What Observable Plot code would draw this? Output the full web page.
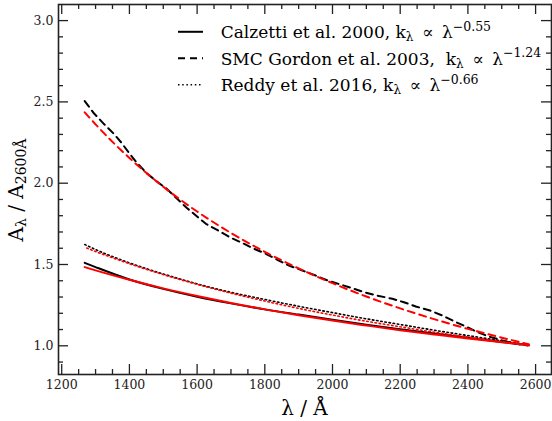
<!DOCTYPE html>
<html>
<head>
<meta charset="utf-8">
<script src="https://cdn.jsdelivr.net/npm/d3@7"></script>
<script src="https://cdn.jsdelivr.net/npm/@observablehq/plot@0.6"></script>
<style>
  body { margin: 0; background: #fff; }
  #chart svg { display: block; }
</style>
</head>
<body>
<div id="chart"></div>
<script>
// ---- data ----
const lambdaGrid   = [1268, 1300, 1400, 1500, 1600, 1700, 1800, 1900, 2000, 2100, 2200, 2300, 2400, 2500, 2580];
const calzettiObs  = [1.510, 1.484, 1.408, 1.350, 1.302, 1.261, 1.224, 1.192, 1.160, 1.130, 1.102, 1.075, 1.049, 1.024, 1.003];
const calzettiFit  = [1.484, 1.464, 1.406, 1.353, 1.306, 1.263, 1.224, 1.188, 1.155, 1.125, 1.096, 1.070, 1.045, 1.022, 1.004];
const reddyObs     = [1.623, 1.592, 1.510, 1.442, 1.381, 1.329, 1.285, 1.243, 1.204, 1.166, 1.131, 1.096, 1.063, 1.031, 1.006];
const reddyFit     = [1.606, 1.580, 1.505, 1.438, 1.378, 1.324, 1.275, 1.230, 1.189, 1.151, 1.117, 1.084, 1.054, 1.026, 1.005];
const smcFit       = [2.436, 2.362, 2.155, 1.978, 1.826, 1.694, 1.578, 1.476, 1.385, 1.303, 1.230, 1.164, 1.104, 1.050, 1.010];
const lambdaSmc    = [1268, 1295, 1323, 1352, 1376, 1399, 1423, 1451, 1480, 1510, 1541, 1569, 1600, 1626, 1670, 1699, 1734, 1768, 1803, 1837, 1871, 1911, 1950, 1985, 2054, 2093, 2132, 2177, 2211, 2246, 2288, 2325, 2359, 2394, 2428, 2462, 2502, 2542, 2576];
const smcObs       = [2.505, 2.430, 2.368, 2.308, 2.250, 2.186, 2.123, 2.062, 2.012, 1.966, 1.904, 1.849, 1.795, 1.750, 1.700, 1.665, 1.632, 1.597, 1.566, 1.529, 1.494, 1.463, 1.432, 1.402, 1.357, 1.330, 1.309, 1.289, 1.268, 1.242, 1.217, 1.186, 1.151, 1.119, 1.084, 1.057, 1.033, 1.012, 1.002];

const xMajorTicks = [1200, 1400, 1600, 1800, 2000, 2200, 2400, 2600];
const yMajorTicks = [1.0, 1.5, 2.0, 2.5, 3.0];
const xMinorTicks = d3.range(1250, 2600, 50).filter(v => v % 200 !== 0);
const yMinorTicks = d3.range(9, 31).map(v => v / 10).filter(v => Math.abs(v * 2 - Math.round(v * 2)) > 1e-6);

const legendNames     = ["Calzetti et al. 2000, k", "SMC Gordon et al. 2003,\u00a0 k", "Reddy et al. 2016, k"];
const legendExponents = ["\u22120.55", "\u22121.24", "\u22120.66"];
const legendDashes    = [null, "7,5", "1.5,2.7"];

// ---- layout ----
const W = 552, H = 421, mL = 58, mR = 1, mT = 4, mB = 47;
const innerW = W - mL - mR, innerH = H - mT - mB;
const axisColor = "#222";
const serif = "'DejaVu Serif', 'Liberation Serif', serif";

const series = (xs, ys) => xs.map((x, i) => ({x, y: ys[i]}));
const lw = 2, lwDot = 1.6;
const dashed = "7,5", dotted = "1.5,2.7";

const tick = (data, opts) => Plot.tickX(data, {x: d => d, stroke: axisColor, strokeWidth: 1.3, ...opts});
const tickY = (data, opts) => Plot.tickY(data, {y: d => d, stroke: axisColor, strokeWidth: 1.3, ...opts});

const chart = Plot.plot({
  width: W, height: H,
  marginLeft: mL, marginRight: mR, marginTop: mT, marginBottom: mB,
  style: {fontFamily: serif, fontSize: "12.5px", color: axisColor, background: "#fff"},
  x: {domain: [1190.5, 2647]},
  y: {domain: [0.8235, 3.099]},
  marks: [
    Plot.line(series(lambdaGrid, calzettiObs), {x: "x", y: "y", stroke: "#000", strokeWidth: lw, curve: "monotone-x"}),
    Plot.line(series(lambdaSmc, smcObs), {x: "x", y: "y", stroke: "#000", strokeWidth: lw, strokeDasharray: dashed}),
    Plot.line(series(lambdaGrid, reddyObs), {x: "x", y: "y", stroke: "#000", strokeWidth: lwDot, strokeDasharray: dotted, curve: "monotone-x"}),
    Plot.line(series(lambdaGrid, calzettiFit), {x: "x", y: "y", stroke: "#ff0000", strokeWidth: lw, curve: "monotone-x"}),
    Plot.line(series(lambdaGrid, smcFit), {x: "x", y: "y", stroke: "#ff0000", strokeWidth: lw, strokeDasharray: dashed, curve: "monotone-x"}),
    Plot.line(series(lambdaGrid, reddyFit), {x: "x", y: "y", stroke: "#ff0000", strokeWidth: lwDot, strokeDasharray: dotted, strokeDashoffset: 2, curve: "monotone-x"}),
    Plot.frame({stroke: axisColor, strokeWidth: 1.6}),
    // inward ticks, all four sides
    tick(xMajorTicks, {insetTop: innerH - 10}),
    tick(xMajorTicks, {insetBottom: innerH - 10}),
    tick(xMinorTicks, {insetTop: innerH - 5}),
    tick(xMinorTicks, {insetBottom: innerH - 5}),
    tickY(yMajorTicks, {insetRight: innerW - 10}),
    tickY(yMajorTicks, {insetLeft: innerW - 10}),
    tickY(yMinorTicks, {insetRight: innerW - 5}),
    tickY(yMinorTicks, {insetLeft: innerW - 5}),
    Plot.axisX({ticks: xMajorTicks, tickSize: 0, tickPadding: 6, tickFormat: d3.format("d"), label: null}),
    Plot.axisY({ticks: yMajorTicks, tickSize: 0, tickPadding: 5, tickFormat: d3.format(".1f"), label: null})
  ]
});

document.getElementById("chart").appendChild(chart);

// ---- legend and axis labels ----
const svg = d3.select(chart);

const leg = svg.append("g").attr("font-family", serif).attr("fill", "#000").attr("text-anchor", "start");
legendNames.forEach((name, i) => {
  const base = 38.3 + i * 26.5;
  const ln = leg.append("line")
    .attr("x1", 178).attr("x2", 203)
    .attr("y1", base - 6.5).attr("y2", base - 6.5)
    .attr("stroke", "#000").attr("stroke-width", legendDashes[i] === dotted ? lwDot : lw);
  if (legendDashes[i]) ln.attr("stroke-dasharray", legendDashes[i]);
  const t = leg.append("text").attr("x", 220.7).attr("y", base).attr("font-size", 17)
    .attr("text-anchor", "start").style("white-space", "pre");
  t.append("tspan").text(name);
  t.append("tspan").attr("font-size", 12).attr("dy", 3).text("\u03bb");
  t.append("tspan").attr("dy", -3).text("\u2002\u221d\u2002\u03bb");
  t.append("tspan").attr("font-size", 12.5).attr("dy", -7.5).text(legendExponents[i]);
});

// x label
svg.append("text")
  .attr("x", mL + innerW / 2).attr("y", 415)
  .attr("text-anchor", "middle").attr("font-family", serif).attr("font-size", 20).attr("fill", "#000")
  .text("\u03bb / \u00c5");

// y label
const yl = svg.append("text")
  .attr("transform", `translate(22.7, ${mT + innerH / 2 + 1}) rotate(-90)`)
  .attr("text-anchor", "middle").attr("font-family", serif).attr("font-size", 20).attr("fill", "#000");
yl.append("tspan").text("A");
yl.append("tspan").attr("font-size", 14).attr("dy", 3).text("\u03bb");
yl.append("tspan").attr("dy", -3).text(" / A");
yl.append("tspan").attr("font-size", 14).attr("dy", 3).text("2600\u00c5");
</script>
</body>
</html>
